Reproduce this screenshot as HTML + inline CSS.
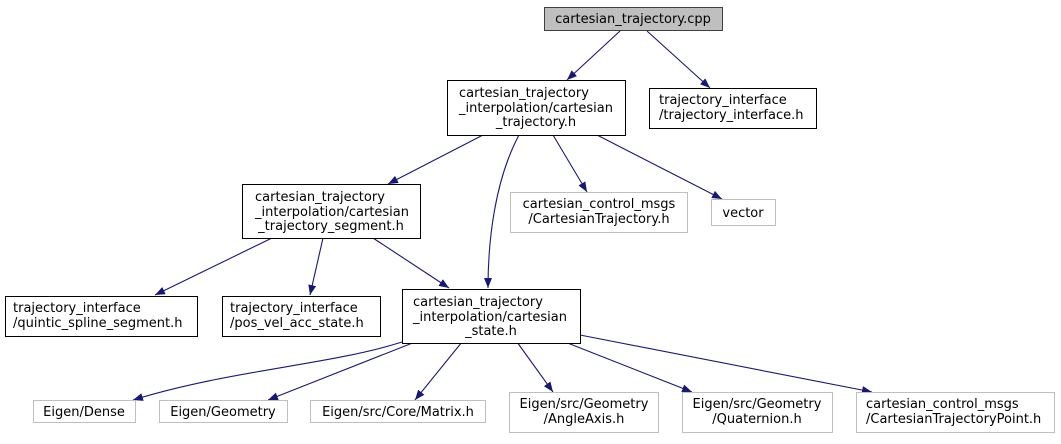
<!DOCTYPE html>
<html><head><meta charset="utf-8"><style>
body{margin:0;background:#fff;width:1061px;height:439px;overflow:hidden}
text{font-family:"DejaVu Sans","Liberation Sans",sans-serif;font-size:13px;fill:#000}
</style></head><body>
<svg width="1061" height="439" viewBox="0 0 1061 439" xmlns="http://www.w3.org/2000/svg">
<defs><marker id="a" markerWidth="10" markerHeight="8" refX="10" refY="4" orient="auto" markerUnits="userSpaceOnUse"><path d="M0,0 L10,4 L0,8 z" fill="#191970"/></marker></defs>
<g fill="none" stroke="#191970" stroke-width="1.1" marker-end="url(#a)">
<path d="M620,31 L567,80"/>
<path d="M647,31 L710,88"/>
<path d="M483,135 L388,184"/>
<path d="M519,135 C495,180 488,240 488,288"/>
<path d="M553,135 L587,192"/>
<path d="M597,135 L722,199"/>
<path d="M272,238 L155,295"/>
<path d="M323,238 L310,295"/>
<path d="M373,238 L449,288"/>
<path d="M402,342 C330,365 230,370 133,400"/>
<path d="M415,342 L268,400"/>
<path d="M462,342 L415,400"/>
<path d="M517,342 L553,392"/>
<path d="M565,342 L692,392"/>
<path d="M580,335 L872,392"/>
</g>
<g stroke-width="1">
<rect x="544.5" y="7.5" width="178" height="23" fill="#bfbfbf" stroke="#404040"/>
<rect x="447.5" y="80.5" width="178" height="55" fill="#fff" stroke="#000"/>
<rect x="649.5" y="88.5" width="167" height="40" fill="#fff" stroke="#000"/>
<rect x="242.5" y="184.5" width="178" height="54" fill="#fff" stroke="#000"/>
<rect x="510.5" y="192.5" width="177" height="40" fill="#fff" stroke="#bfbfbf"/>
<rect x="711.5" y="199.5" width="64" height="26" fill="#fff" stroke="#bfbfbf"/>
<rect x="5.5" y="296.5" width="192" height="40" fill="#fff" stroke="#000"/>
<rect x="222.5" y="296.5" width="158" height="40" fill="#fff" stroke="#000"/>
<rect x="402.5" y="289.5" width="178" height="54" fill="#fff" stroke="#000"/>
<rect x="33.5" y="400.5" width="102" height="22" fill="#fff" stroke="#bfbfbf"/>
<rect x="159.5" y="400.5" width="128" height="22" fill="#fff" stroke="#bfbfbf"/>
<rect x="310.5" y="400.5" width="175" height="22" fill="#fff" stroke="#bfbfbf"/>
<rect x="509.5" y="392.5" width="149" height="40" fill="#fff" stroke="#bfbfbf"/>
<rect x="682.5" y="392.5" width="150" height="40" fill="#fff" stroke="#bfbfbf"/>
<rect x="856.5" y="392.5" width="198" height="40" fill="#fff" stroke="#bfbfbf"/>
</g>
<text x="633" y="23" text-anchor="middle">cartesian_trajectory.cpp</text>
<text x="459" y="97">cartesian_trajectory</text>
<text x="459" y="112">_interpolation/cartesian</text>
<text x="536" y="126" text-anchor="middle">_trajectory.h</text>
<text x="659" y="104">trajectory_interface</text>
<text x="659" y="119">/trajectory_interface.h</text>
<text x="255" y="201">cartesian_trajectory</text>
<text x="255" y="216">_interpolation/cartesian</text>
<text x="331" y="230" text-anchor="middle">_trajectory_segment.h</text>
<text x="599" y="208" text-anchor="middle">cartesian_control_msgs</text>
<text x="599" y="223" text-anchor="middle">/CartesianTrajectory.h</text>
<text x="743" y="217" text-anchor="middle">vector</text>
<text x="13" y="312">trajectory_interface</text>
<text x="13" y="327">/quintic_spline_segment.h</text>
<text x="230" y="312">trajectory_interface</text>
<text x="230" y="327">/pos_vel_acc_state.h</text>
<text x="413" y="306">cartesian_trajectory</text>
<text x="413" y="321">_interpolation/cartesian</text>
<text x="491" y="335" text-anchor="middle">_state.h</text>
<text x="84" y="416" text-anchor="middle">Eigen/Dense</text>
<text x="223" y="416" text-anchor="middle">Eigen/Geometry</text>
<text x="398" y="416" text-anchor="middle">Eigen/src/Core/Matrix.h</text>
<text x="584" y="408" text-anchor="middle">Eigen/src/Geometry</text>
<text x="584" y="423" text-anchor="middle">/AngleAxis.h</text>
<text x="757" y="408" text-anchor="middle">Eigen/src/Geometry</text>
<text x="757" y="423" text-anchor="middle">/Quaternion.h</text>
<text x="866" y="408">cartesian_control_msgs</text>
<text x="866" y="423">/CartesianTrajectoryPoint.h</text>
</svg>
</body></html>
